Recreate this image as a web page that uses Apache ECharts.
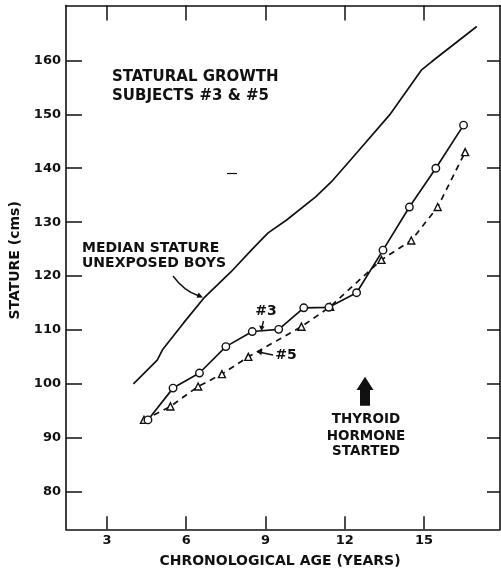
<!DOCTYPE html>
<html><head><meta charset="utf-8">
<script src="https://cdn.jsdelivr.net/npm/echarts@6/dist/echarts.min.js"></script>
<style>html,body{margin:0;padding:0;background:#fff}#c{width:501px;height:575px}</style>
</head><body><div id="c"></div>
<script>
// ---- data ----
const ageMedian = [4.0, 4.9, 5.1, 5.9, 6.7, 7.7, 8.5, 9.1, 9.8, 10.9, 11.5, 12.5, 13.7, 14.9, 15.3, 17.0];
const statureMedian = [100.0, 104.4, 106.3, 111.3, 116.1, 120.8, 125.0, 128.0, 130.4, 134.7, 137.5, 143.1, 149.9, 158.2, 159.8, 166.3];

const ageSubject3 = [4.55, 5.5, 6.5, 7.5, 8.5, 9.5, 10.45, 11.4, 12.45, 13.45, 14.45, 15.45, 16.5];
const statureSubject3 = [93.3, 99.2, 102.0, 106.9, 109.7, 110.1, 114.1, 114.2, 116.9, 124.8, 132.8, 140.0, 148.0];

const ageSubject5 = [4.4, 5.4, 6.45, 7.35, 8.35, 10.36, 11.45, 13.39, 14.52, 15.52, 16.56];
const statureSubject5 = [93.3, 95.8, 99.5, 101.8, 105.0, 110.6, 114.3, 123.0, 126.6, 132.8, 143.0];

const xTicks = [3, 6, 9, 12, 15];
const yTicks = [80, 90, 100, 110, 120, 130, 140, 150, 160];

const xMin = 1.447, xMax = 17.88, yMin = 73.0, yMax = 170.2;

// ---- chart ----
const ink = '#111';
const FONT = '"DejaVu Sans", sans-serif';
const zip = (a, b) => a.map((v, i) => [v, b[i]]);

const chart = echarts.init(document.getElementById('c'), null, {renderer: 'canvas'});

const lbl = {color: ink, fontFamily: FONT, fontWeight: 'bold', fontSize: 13};

function xAx(pos, tickLen, showLabel, extra) {
  return Object.assign({
    type: 'value', position: pos, min: xMin, max: xMax,
    axisLine: {show: true, onZero: false, lineStyle: {color: ink, width: 1.6}},
    axisTick: {show: true, inside: true, length: tickLen, customValues: xTicks, lineStyle: {color: ink, width: 1.5}},
    axisLabel: Object.assign({show: showLabel, customValues: xTicks, margin: 5}, lbl),
    splitLine: {show: false}
  }, extra || {});
}
function yAx(pos, tickLen, showLabel, extra) {
  return Object.assign({
    type: 'value', position: pos, min: yMin, max: yMax,
    axisLine: {show: true, onZero: false, lineStyle: {color: ink, width: 1.6}},
    axisTick: {show: true, inside: true, length: tickLen, customValues: yTicks, lineStyle: {color: ink, width: 1.5}},
    axisLabel: Object.assign({show: showLabel, customValues: yTicks, margin: 5}, lbl),
    splitLine: {show: false}
  }, extra || {});
}

const txt = (text, x, y, size, align) => ({
  type: 'text', x: x, y: y, silent: true,
  style: {text: text, fill: ink, font: 'bold ' + size + 'px ' + FONT, align: align || 'left', verticalAlign: 'middle'}
});
const seg = (x1, y1, x2, y2, w) => ({type: 'line', silent: true, shape: {x1, y1, x2, y2}, style: {stroke: ink, lineWidth: w || 1.4}});
const poly = (pts) => ({type: 'polygon', silent: true, shape: {points: pts}, style: {fill: ink}});

chart.setOption({
  animation: false,
  backgroundColor: '#fff',
  grid: {left: 63, right: 1, top: 5.5, bottom: 45.7, containLabel: false},
  xAxis: [
    xAx('bottom', 13, true, {
      name: 'CHRONOLOGICAL AGE (YEARS)', nameLocation: 'middle', nameGap: 25,
      nameTextStyle: {color: ink, fontFamily: FONT, fontWeight: 'bold', fontSize: 14, padding: [0, 6, 0, 0]}
    }),
    xAx('top', 15, false)
  ],
  yAxis: [
    yAx('left', 16, true, {
      name: 'STATURE (cms)', nameLocation: 'middle', nameGap: 44,
      nameTextStyle: {color: ink, fontFamily: FONT, fontWeight: 'bold', fontSize: 14, padding: [0, 0, 0, 14]}
    }),
    yAx('right', 13, false)
  ],
  series: [
    {
      name: 'Median stature unexposed boys', type: 'line', xAxisIndex: 0, yAxisIndex: 0,
      data: zip(ageMedian, statureMedian), showSymbol: false, symbol: 'none',
      lineStyle: {color: ink, width: 1.7}
    },
    {
      name: '#5', type: 'line', xAxisIndex: 0, yAxisIndex: 0,
      data: zip(ageSubject5, statureSubject5), symbol: 'triangle', symbolSize: 7,
      lineStyle: {color: ink, width: 1.7, type: [6, 5]},
      itemStyle: {color: '#fff', borderColor: ink, borderWidth: 1.4}
    },
    {
      name: '#3', type: 'line', xAxisIndex: 0, yAxisIndex: 0,
      data: zip(ageSubject3, statureSubject3), symbol: 'circle', symbolSize: 7.5,
      lineStyle: {color: ink, width: 1.7},
      itemStyle: {color: '#fff', borderColor: ink, borderWidth: 1.4}
    }
  ],
  graphic: [
    txt('STATURAL GROWTH', 112, 77.5, 15),
    txt('SUBJECTS #3 & #5', 112, 96.3, 15),
    txt('MEDIAN STATURE', 82, 248, 14),
    txt('UNEXPOSED BOYS', 82, 263, 14),
    txt('#3', 266, 311, 14, 'center'),
    txt('#5', 286, 355, 14, 'center'),
    txt('THYROID', 366, 419, 13.5, 'center'),
    txt('HORMONE', 366, 436, 13.5, 'center'),
    txt('STARTED', 366, 451.7, 13.5, 'center'),
    // arrow from median label to the median line
    {type: 'bezierCurve', silent: true, shape: {x1: 173, y1: 276, cpx1: 184, cpy1: 291, x2: 198, y2: 295.5},
     style: {stroke: ink, lineWidth: 1.4, fill: null}},
    poly([[203, 297.5], [196.5, 297.8], [198.6, 292.6]]),
    // #3 pointer
    seg(263.5, 321, 262, 327),
    poly([[261.5, 331], [259, 325.5], [264.5, 326.5]]),
    // #5 pointer
    seg(273, 355, 261, 352.5),
    poly([[256.5, 351.5], [262.4, 349.6], [261.4, 355.2]]),
    // thyroid hormone arrow
    poly([[365, 376.7], [373.5, 390], [370, 390], [370, 405.7], [360, 405.7], [360, 390], [356.5, 390]]),
    // small stray dash in the original
    seg(227, 173.5, 237, 173.5, 1.2)
  ]
});
</script>
</body></html>
